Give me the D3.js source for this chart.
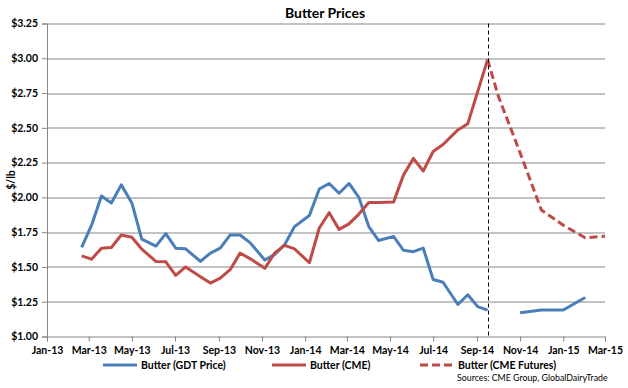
<!DOCTYPE html>
<html>
<head>
<meta charset="utf-8">
<script src="https://cdn.jsdelivr.net/npm/d3@7"></script>
<style>
	body { margin: 0; background: #fff; }
	text { font-family: Lato, "Open Sans", sans-serif; fill: #000; }
</style>
</head>
<body>
<div id="chart"></div>
<script>
// auction dates shared by GDT and CME spot series
var auctionDates = [
	"2013-02-19","2013-03-05","2013-03-19","2013-04-02","2013-04-16","2013-05-01","2013-05-15",
	"2013-06-04","2013-06-18","2013-07-02","2013-07-16","2013-08-06","2013-08-20","2013-09-03",
	"2013-09-17","2013-10-01","2013-10-15","2013-11-05","2013-11-19","2013-12-03","2013-12-17",
	"2014-01-07","2014-01-21","2014-02-04","2014-02-18","2014-03-04","2014-03-18","2014-04-01",
	"2014-04-15","2014-05-06","2014-05-20","2014-06-03","2014-06-17","2014-07-01","2014-07-15",
	"2014-08-05","2014-08-19","2014-09-02","2014-09-16"
];
var gdtValues = [
	1.64, 1.80, 2.01, 1.96, 2.09, 1.96, 1.70, 1.65, 1.74, 1.635, 1.63, 1.54, 1.60, 1.635,
	1.73, 1.73, 1.675, 1.55, 1.59, 1.66, 1.79,
	1.87, 2.06, 2.10, 2.03, 2.10, 2.00, 1.79, 1.69, 1.72, 1.62, 1.61, 1.635, 1.41, 1.39,
	1.23, 1.30, 1.215, 1.19
];
var cmeValues = [
	1.58, 1.556, 1.635, 1.64, 1.73, 1.714, 1.628, 1.54, 1.537, 1.44, 1.50, 1.43, 1.384, 1.42,
	1.48, 1.60, 1.56, 1.49, 1.60, 1.655, 1.63,
	1.53, 1.78, 1.89, 1.77, 1.81, 1.88, 1.963, 1.963, 1.966, 2.16, 2.28, 2.19, 2.33, 2.38,
	2.485, 2.53, 2.76, 2.99
];
// forward (monthly) points after the cut-off
var gdtFwdDates = ["2014-11-01","2014-12-01","2015-01-01","2015-02-01"];
var gdtFwdValues = [1.17, 1.19, 1.19, 1.28];
var futDates = ["2014-09-16","2014-10-01","2014-11-01","2014-12-01","2015-01-01","2015-02-01","2015-03-01"];
var futValues = [2.99, 2.73, 2.32, 1.91, 1.80, 1.71, 1.72];
var cutoffDate = "2014-09-17";

var yTicks = [1.00, 1.25, 1.50, 1.75, 2.00, 2.25, 2.50, 2.75, 3.00, 3.25];
var legends = ["Butter (GDT Price)", "Butter (CME)", "Butter (CME Futures)"];

function drawChart()
{
	var dim = {
		width: 628,
		height: 388,
		margin: { top: 23.5, bottom: 51.5, left: 47, right: 23 }
	};
	dim.ctrWidth = dim.width - dim.margin.left - dim.margin.right;
	dim.ctrHeight = dim.height - dim.margin.top - dim.margin.bottom;

	var parse = d3.timeParse("%Y-%m-%d");
	var blue = "#4a7ebb", red = "#be4b48", grid = "#868686";

	var x = d3.scaleTime()
		.domain([parse("2013-01-01"), parse("2015-03-01")])
		.range([0, dim.ctrWidth]);
	var y = d3.scaleLinear()
		.domain([1, 3.25])
		.range([dim.ctrHeight, 0]);

	var svg = d3.select("#chart")
		.append("svg")
		.attr("width", dim.width)
		.attr("height", dim.height);

	svg.append("text")
		.attr("x", 325)
		.attr("y", 18)
		.attr("text-anchor", "middle")
		.style("font-size", "14px")
		.style("font-weight", "bold")
		.text("Butter Prices");

	var ctr = svg.append("g")
		.attr("transform", `translate(${dim.margin.left},${dim.margin.top})`);

	// horizontal grid
	ctr.append("g")
		.selectAll("line")
		.data(yTicks.slice(1))
		.join("line")
		.attr("x1", 0)
		.attr("x2", dim.ctrWidth)
		.attr("y1", d => Math.round(y(d)) + 0.5)
		.attr("y2", d => Math.round(y(d)) + 0.5)
		.attr("stroke", grid)
		.attr("stroke-width", 1);

	var yAxis = ctr.append("g")
		.call(d3.axisLeft(y).tickValues(yTicks).tickSize(5).tickPadding(4).tickFormat(d3.format("$.2f")));
	var xAxis = ctr.append("g")
		.attr("transform", `translate(0,${dim.ctrHeight})`)
		.call(d3.axisBottom(x).ticks(d3.timeMonth.every(2)).tickSize(5).tickPadding(5).tickFormat(d3.timeFormat("%b-%y")));

	[yAxis, xAxis].forEach(function(a)
	{
		a.selectAll("path, line").attr("stroke", grid);
		a.selectAll("text")
			.style("font-size", "10.5px")
			.style("font-weight", "bold")
			.style("font-family", "Lato, sans-serif")
			.attr("fill", "#000");
	});

	svg.append("text")
		.attr("transform", `translate(15,${dim.margin.top + dim.ctrHeight / 2}) rotate(-90)`)
		.attr("text-anchor", "middle")
		.style("font-size", "10.5px")
		.style("font-weight", "bold")
		.text("$/lb");

	var line = d3.line()
		.x(d => x(parse(d[0])))
		.y(d => y(d[1]));

	var series = [
		{ pts: d3.zip(auctionDates, gdtValues), color: blue, dash: null },
		{ pts: d3.zip(gdtFwdDates, gdtFwdValues), color: blue, dash: null },
		{ pts: d3.zip(auctionDates, cmeValues), color: red, dash: null },
		{ pts: d3.zip(futDates, futValues), color: red, dash: "8,4" }
	];

	ctr.selectAll("path.series")
		.data(series)
		.join("path")
		.attr("class", "series")
		.attr("d", d => line(d.pts))
		.attr("fill", "none")
		.attr("stroke", d => d.color)
		.attr("stroke-width", 3)
		.attr("stroke-linejoin", "round")
		.attr("stroke-dasharray", d => d.dash);

	// cut-off marker
	ctr.append("line")
		.attr("x1", Math.round(x(parse(cutoffDate))) + 0.5)
		.attr("x2", Math.round(x(parse(cutoffDate))) + 0.5)
		.attr("y1", 0)
		.attr("y2", dim.ctrHeight)
		.attr("stroke", "#000")
		.attr("stroke-width", 1)
		.attr("stroke-dasharray", "4,3");

	// legend
	var legendX = [103, 272, 420];
	var legendColor = [blue, red, red];
	var legendDash = [null, null, "8,4"];
	var legend = svg.append("g")
		.attr("transform", "translate(0,365)");
	legend.selectAll("line")
		.data(legends)
		.join("line")
		.attr("x1", (d, i) => legendX[i])
		.attr("x2", (d, i) => legendX[i] + 34)
		.attr("y1", 0)
		.attr("y2", 0)
		.attr("stroke", (d, i) => legendColor[i])
		.attr("stroke-width", 3)
		.attr("stroke-dasharray", (d, i) => legendDash[i]);
	legend.selectAll("text")
		.data(legends)
		.join("text")
		.attr("x", (d, i) => legendX[i] + 38)
		.attr("y", 4)
		.style("font-size", "10.5px")
		.style("font-weight", "bold")
		.text(d => d);

	svg.append("text")
		.attr("x", 457)
		.attr("y", 381)
		.style("font-size", "8.8px")
		.text("Sources:  CME Group, GlobalDairyTrade");
}

drawChart();
</script>
</body>
</html>
